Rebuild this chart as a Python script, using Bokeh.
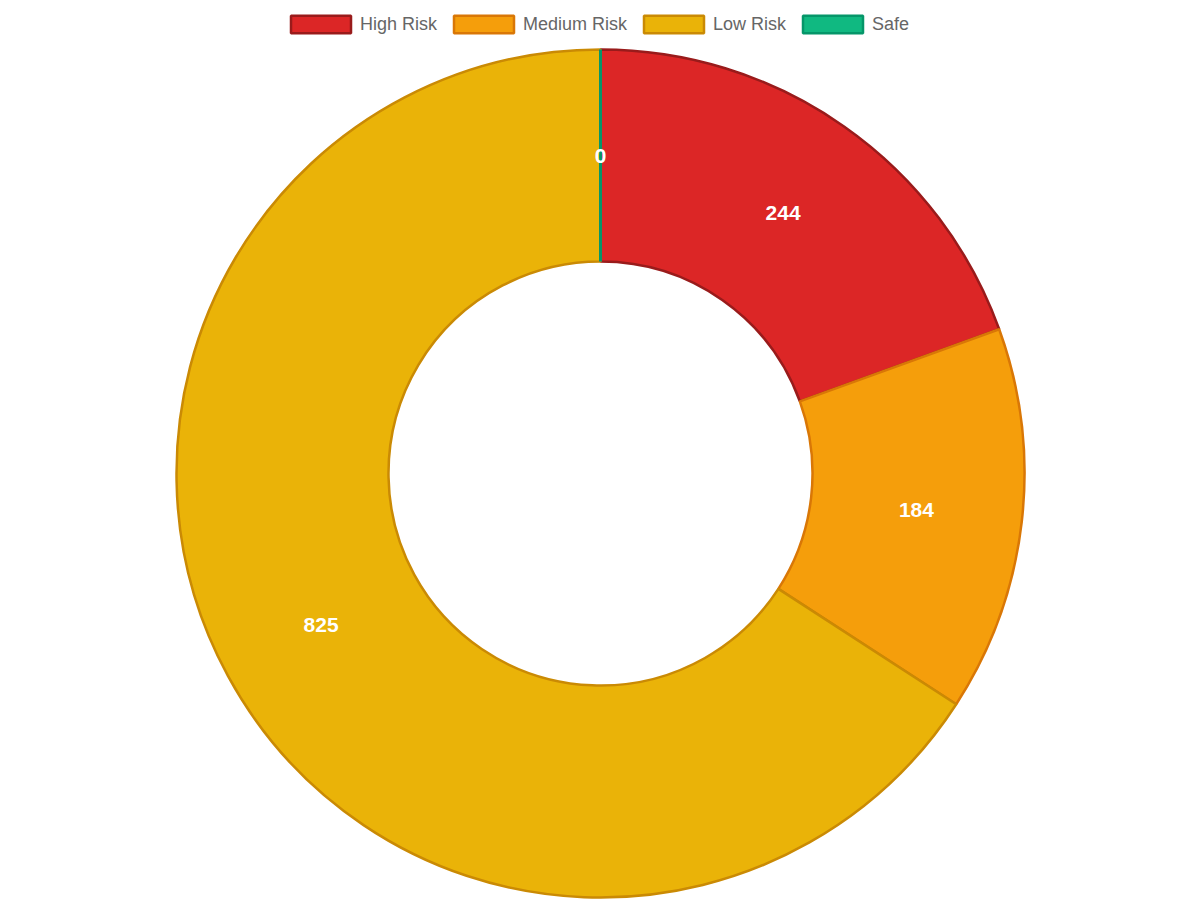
import numpy as np
from bokeh.plotting import figure
from bokeh.models import ColumnDataSource, Range1d, Legend, LegendItem
from bokeh.core.properties import value
from bokeh.embed import file_html
from bokeh.resources import INLINE

# ---- data ----
categories = ["High Risk", "Medium Risk", "Low Risk", "Safe"]
counts = [244, 184, 825, 0]
fill_colors = ["#dc2626", "#f59e0b", "#eab308", "#10b981"]
line_colors = ["#991b1b", "#d97706", "#ca8a04", "#059669"]

# ---- geometry (x right, y = 900 - screen y) ----
W, H = 1200, 900
cx, cy = 600, 427
r_out, r_in = 424, 212
LW = 2.5

vals = np.array(counts, dtype=float)
total = vals.sum()
cum = np.concatenate([[0.0], np.cumsum(vals)]) / total * 2 * np.pi
c0, c1 = cum[:-1], cum[1:]
mid = (c0 + c1) / 2
r_mid = (r_in + r_out) / 2

full = dict(
    cat=categories,
    start=np.pi / 2 - c0,
    end=np.pi / 2 - c1,
    fill=fill_colors,
    line=line_colors,
    lx=cx + r_mid * np.sin(mid),
    ly=cy + r_mid * np.cos(mid),
    sx0=cx + r_in * np.sin(c0),
    sy0=cy + r_in * np.cos(c0),
    sx1=cx + r_out * np.sin(c0),
    sy1=cy + r_out * np.cos(c0),
    txt=[str(c) for c in counts],
)
src = ColumnDataSource(full)
nz = vals > 0
wedge_src = ColumnDataSource({k: [v for v, m in zip(full[k], nz) if m] for k in full})
zero_src = ColumnDataSource({k: [v for v, m in zip(full[k], nz) if not m] for k in full})

p = figure(width=W, height=H, x_range=Range1d(0, W), y_range=Range1d(0, H),
           x_axis_type=None, y_axis_type=None, toolbar_location=None,
           output_backend="svg", min_border=0, outline_line_color=None,
           background_fill_color="white", border_fill_color="white")
p.grid.visible = False

# doughnut slices (non-zero values)
p.annular_wedge(x=cx, y=cy, inner_radius=r_in, outer_radius=r_out,
                start_angle="start", end_angle="end", direction="clock",
                fill_color="fill", line_color="line", line_width=LW,
                source=wedge_src)

# zero-valued slices collapse to a border line at their angle
p.segment(x0="sx0", y0="sy0", x1="sx1", y1="sy1", line_color="line",
          line_width=LW + 0.5, source=zero_src)

# value labels
p.text(x="lx", y="ly", text="txt", source=src, text_color="white",
       text_font=value("Liberation Sans"), text_font_style="bold",
       text_font_size="21px", text_align="center", text_baseline="middle")

# legend proxy (no visible marks in the plot area)
proxy = p.rect(x=np.nan, y=np.nan, width=1, height=1, fill_color="fill",
               line_color="line", line_width=LW, source=src)

legend = Legend(
    items=[LegendItem(label=c, renderers=[proxy], index=i) for i, c in enumerate(categories)],
    orientation="horizontal", location=(283, 865),
    glyph_width=75, glyph_height=22, label_standoff=2, spacing=9,
    padding=0, margin=0, border_line_color=None, background_fill_alpha=0,
    label_text_font="Liberation Sans", label_text_font_size="18px",
    label_text_color="#666666", label_height=22,
)
p.add_layout(legend)

open("out.html", "w").write(file_html(p, INLINE))
